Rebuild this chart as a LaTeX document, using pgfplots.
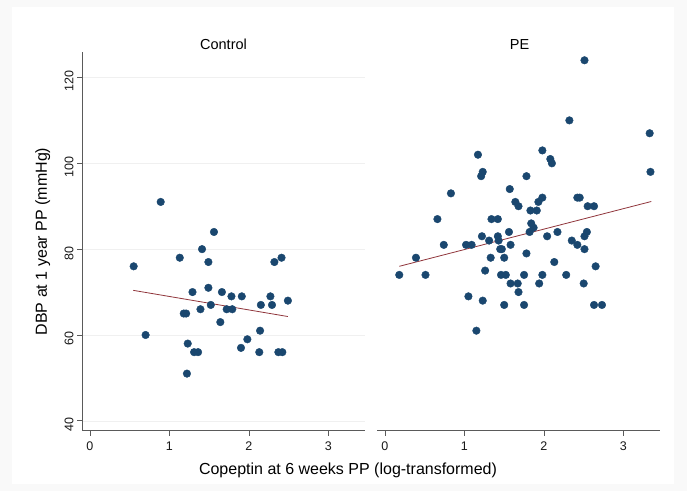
\documentclass[border=0pt]{standalone}
\usepackage{pgfplots}
\pgfplotsset{compat=1.18}
\usepackage{fontspec}
\setmainfont{Liberation Sans}
\definecolor{stnavy}{RGB}{26,71,111}
\definecolor{stmaroon}{RGB}{144,53,59}
\definecolor{axgray}{RGB}{90,90,90}
\pgfplotstableread{
x y
0.55 76
0.70 60
0.89 91
1.13 78
1.18 65
1.21 65
1.22 51
1.23 58
1.29 70
1.31 56
1.36 56
1.39 66
1.41 80
1.49 77
1.49 71
1.52 67
1.56 84
1.64 63
1.66 70
1.72 66
1.79 66
1.78 69
1.91 69
1.98 59
1.90 57
2.13 56
2.14 61
2.15 67
2.27 69
2.29 67
2.32 77
2.41 78
2.37 56
2.42 56
2.49 68
}\controldata
\pgfplotstableread{
x y
0.18 74
0.39 78
0.51 74
0.66 87
0.74 81
0.83 93
1.02 81
1.05 69
1.09 81
1.15 61
1.17 102
1.21 97
1.23 98
1.22 83
1.23 68
1.26 75
1.31 82
1.33 78
1.34 87
1.42 87
1.42 83
1.43 82
1.45 80
1.47 80
1.46 74
1.50 78
1.50 67
1.52 74
1.56 84
1.57 94
1.58 81
1.58 72
1.64 91
1.67 72
1.68 90
1.68 70
1.75 74
1.75 67
1.78 97
1.78 79
1.82 84
1.83 89
1.84 86
1.87 85
1.91 89
1.93 91
1.94 72
1.98 92
1.98 103
1.98 74
2.04 83
2.08 101
2.10 100
2.13 77
2.17 84
2.28 74
2.32 110
2.35 82
2.42 81
2.42 92
2.45 92
2.50 72
2.51 124
2.51 83
2.54 84
2.51 80
2.55 90
2.63 90
2.65 76
2.63 67
2.73 67
3.33 107
3.34 98
}\pedata
\begin{document}
\begin{tikzpicture}[x=1pt,y=1pt]
\fill[gray!5] (0,0) rectangle (687,491);
\fill[white] (12,7) rectangle (674,484);
\useasboundingbox (0,0) rectangle (687,491);
\pgfplotsset{panel/.style={
  scale only axis, width=283pt, height=379pt,
  xmin=-0.1, xmax=3.46, ymin=37.7, ymax=126,
  xtick={0,1,2,3}, ytick={40,60,80,100,120},
  ymajorgrids, major grid style={gray!12, line width=0.6pt},
  axis line style={axgray, line width=0.7pt},
  tick style={axgray, line width=0.7pt},
  tick align=outside, major tick length=5pt,
  axis x line*=bottom,
  ticklabel style={font=\fontsize{12.5}{12.5}\selectfont, text=black!90},
  xticklabel style={yshift=-3pt},
  /pgf/number format/assume math mode=true,
  clip=false,
}}
\begin{axis}[panel, at={(82pt,60.3pt)}, anchor=south west,
  axis y line*=left,
  yticklabel style={rotate=90, anchor=south, xshift=-4pt}]
\addplot[only marks, mark=*, mark size=3.8pt, mark options={fill=stnavy, draw=stnavy}] table {\controldata};
\addplot[stmaroon, line width=0.8pt] coordinates {(0.545,70.4) (2.49,64.3)};
\end{axis}
\begin{axis}[panel, at={(377pt,60.3pt)}, anchor=south west,
  axis y line=none]
\addplot[only marks, mark=*, mark size=3.8pt, mark options={fill=stnavy, draw=stnavy}] table {\pedata};
\addplot[stmaroon, line width=0.8pt] coordinates {(0.18,76.0) (3.35,91.1)};
\end{axis}
\node[font=\fontsize{14.5}{14.5}\selectfont] at (223.5,446.5) {Control};
\node[font=\fontsize{14.5}{14.5}\selectfont] at (519.5,446.5) {PE};
\node[font=\fontsize{16}{16}\selectfont] at (348,20.2) {Copeptin at 6 weeks PP (log-transformed)};
\node[font=\fontsize{16}{16}\selectfont, rotate=90] at (42.7,249.5) {DBP at 1 year PP (mmHg)};
\end{tikzpicture}
\end{document}
